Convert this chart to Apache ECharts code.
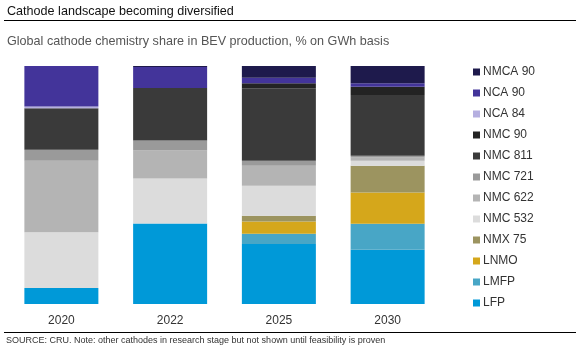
<!DOCTYPE html>
<html>
<head>
<meta charset="utf-8">
<script src="https://cdn.jsdelivr.net/npm/echarts@6/dist/echarts.min.js"></script>
<style>
  html, body { margin: 0; padding: 0; background: #fff; }
  #chart { width: 579px; height: 351px; }
</style>
</head>
<body>
<div id="chart"></div>
<script>
// years on the x axis
var years = ['2020', '2022', '2025', '2030'];

// % share per chemistry, bottom of the stack first
var LFP     = [6.7, 33.8, 25.2, 22.8];
var LMFP    = [0, 0, 4.3, 10.9];
var LNMO    = [0, 0, 5.2, 13.2];
var NMX75   = [0, 0, 2.4, 11.2];
var NMC532  = [23.4, 18.9, 12.6, 2.1];
var NMC622  = [30.1, 11.8, 8.4, 1.4];
var NMC721  = [4.6, 4.2, 2.1, 0.7];
var NMC811  = [17.5, 22.1, 30.4, 25.5];
var NMC90   = [0, 0, 2.1, 3.5];
var NCA84   = [0.7, 0, 0, 0];
var NCA90   = [17.0, 8.8, 2.4, 1.4];
var NMCA90  = [0, 0.4, 4.9, 7.3];

var names  = ['LFP', 'LMFP', 'LNMO', 'NMX 75', 'NMC 532', 'NMC 622', 'NMC 721', 'NMC 811', 'NMC 90', 'NCA 84', 'NCA 90', 'NMCA 90'];
var values = [LFP, LMFP, LNMO, NMX75, NMC532, NMC622, NMC721, NMC811, NMC90, NCA84, NCA90, NMCA90];
var colors = ['#0099d8', '#48a6c6', '#d5a71b', '#9c9460', '#dcdcdc', '#b4b4b4', '#9a9a9a', '#3a3a3a', '#232323', '#b5afe0', '#43349a', '#1e1a4c'];

var chart = echarts.init(document.getElementById('chart'));

var series = names.map(function (n, i) {
  return {
    name: n,
    type: 'bar',
    stack: 'total',
    barWidth: 74,
    itemStyle: { color: colors[i] },
    data: values[i]
  };
});

var option = {
  animation: false,
  title: [
    {
      text: 'Cathode landscape becoming diversified',
      left: 7, top: 5.5, padding: 0,
      textStyle: { fontFamily: 'Liberation Sans', fontSize: 12.6, fontWeight: 'normal', color: '#111' }
    },
    {
      text: 'Global cathode chemistry share in BEV production, % on GWh basis',
      left: 7, top: 35, padding: 0,
      textStyle: { fontFamily: 'Liberation Sans', fontSize: 12.6, fontWeight: 'normal', color: '#555' }
    },
    {
      text: 'SOURCE: CRU. Note: other cathodes in research stage but not shown until feasibility is proven',
      left: 6, top: 336, padding: 0,
      textStyle: { fontFamily: 'Liberation Sans', fontSize: 9, fontWeight: 'normal', color: '#333' }
    }
  ],
  graphic: [
    { type: 'line', shape: { x1: 4, y1: 20.5, x2: 576, y2: 20.5 }, style: { stroke: '#000', lineWidth: 1 } },
    { type: 'line', shape: { x1: 4, y1: 332.5, x2: 576, y2: 332.5 }, style: { stroke: '#000', lineWidth: 1 } }
  ],
  legend: {
    orient: 'vertical',
    left: 468, top: 60,
    data: names.slice().reverse(),
    icon: 'rect',
    itemWidth: 7, itemHeight: 7,
    itemGap: 7,
    textStyle: { fontFamily: 'Liberation Sans', fontSize: 12, color: '#333', lineHeight: 14, padding: [0, 0, 0, -2] }
  },
  grid: { left: 7, width: 435, top: 66, height: 238 },
  xAxis: {
    type: 'category',
    data: years,
    axisLine: { show: false },
    axisTick: { show: false },
    axisLabel: { fontFamily: 'Liberation Sans', fontSize: 12, color: '#333', margin: 11 }
  },
  yAxis: {
    type: 'value',
    min: 0, max: 100,
    show: false
  },
  series: series
};

chart.setOption(option);
</script>
</body>
</html>
